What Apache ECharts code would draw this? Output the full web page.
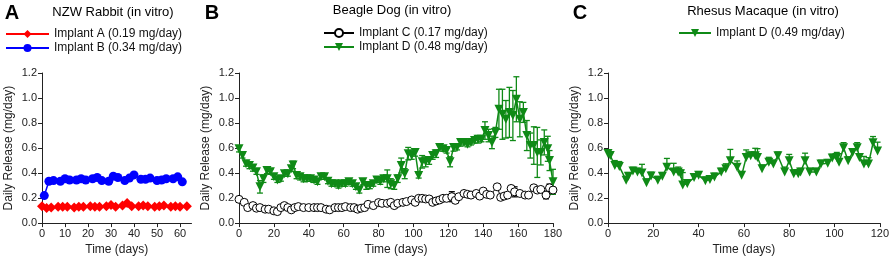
<!DOCTYPE html>
<html>
<head>
<meta charset="utf-8">
<script src="https://cdn.jsdelivr.net/npm/echarts@6/dist/echarts.min.js"></script>
<style>
html, body { margin: 0; padding: 0; background: #fff; }
#main { width: 892px; height: 261px; }
</style>
</head>
<body>
<div id="main"></div>
<script>
// panel A - NZW rabbit
var daysA_red = [0,2,4,7,9,11,14,16,18,21,23,25,28,30,32,35,37,39,42,44,46,49,51,53,56,58,60,63];
var implantA = [0.135,0.12,0.125,0.13,0.13,0.13,0.125,0.13,0.13,0.135,0.13,0.13,0.135,0.145,0.13,0.14,0.16,0.135,0.135,0.14,0.135,0.13,0.135,0.14,0.13,0.135,0.13,0.135];
var daysA_blue = [1,3,5,8,10,12,15,17,19,22,24,26,29,31,33,36,38,40,43,45,47,50,52,54,57,59,61];
var implantB = [0.22,0.335,0.34,0.335,0.355,0.345,0.345,0.355,0.345,0.355,0.365,0.34,0.335,0.375,0.365,0.34,0.36,0.385,0.35,0.35,0.36,0.34,0.345,0.355,0.355,0.37,0.33];

// panel B - beagle dog
var daysB_C = [0,3,5,8,10,12,15,17,20,22,24,26,28,30,32,34,37,40,43,45,47,50,52,55,57,59,61,64,66,68,70,72,74,77,80,82,85,87,89,91,94,96,99,101,103,105,107,109,111,113,115,117,119,122,124,126,129,131,133,136,138,140,142,144,148,150,152,154,156,158,161,164,166,169,171,173,176,178,180];
var implantC = [0.19,0.166,0.124,0.14,0.119,0.124,0.111,0.111,0.098,0.092,0.124,0.14,0.124,0.106,0.124,0.132,0.124,0.124,0.124,0.124,0.124,0.111,0.106,0.124,0.124,0.124,0.132,0.124,0.124,0.111,0.119,0.124,0.15,0.14,0.164,0.158,0.158,0.166,0.14,0.158,0.166,0.172,0.185,0.166,0.198,0.198,0.193,0.193,0.166,0.177,0.185,0.198,0.198,0.211,0.182,0.211,0.237,0.23,0.224,0.237,0.216,0.256,0.23,0.224,0.29,0.206,0.216,0.224,0.277,0.25,0.237,0.224,0.224,0.282,0.264,0.269,0.224,0.282,0.264];
var errC = [0,0,0,0,0,0,0,0,0,0,0,0,0,0,0,0,0,0,0,0,0,0,0,0,0,0,0,0,0,0,0,0,0.015,0,0,0,0,0,0,0,0,0,0,0,0,0,0,0,0,0,0,0,0,0.04,0.02,0,0,0,0,0,0,0,0,0,0.015,0,0,0,0.02,0.04,0,0,0,0.015,0,0,0.03,0.03,0];
var daysB_D = [0,2,4,6,8,10,12,14,16,18,20,22,24,26,28,30,31,33,35,37,39,41,43,45,47,49,51,53,55,57,59,61,63,65,67,69,71,73,75,77,79,81,83,85,87,89,91,93,95,97,99,101,103,105,107,109,111,113,115,117,119,121,123,125,127,129,131,133,135,137,139,141,143,145,147,149,151,153,155,157,159,161,163,165,167,169,171,173,175,177,178,180];
var implantD_dog = [0.594,0.54,0.475,0.46,0.44,0.41,0.29,0.355,0.42,0.41,0.37,0.345,0.355,0.395,0.395,0.435,0.465,0.38,0.37,0.355,0.355,0.355,0.345,0.33,0.37,0.37,0.335,0.315,0.315,0.30,0.315,0.315,0.33,0.315,0.29,0.265,0.33,0.30,0.30,0.315,0.345,0.335,0.355,0.355,0.315,0.30,0.355,0.46,0.395,0.555,0.54,0.565,0.38,0.49,0.49,0.50,0.54,0.555,0.605,0.594,0.58,0.49,0.605,0.605,0.645,0.645,0.63,0.645,0.66,0.67,0.67,0.74,0.70,0.645,0.725,0.91,0.87,0.83,0.885,0.86,0.99,0.83,0.885,0.70,0.62,0.62,0.565,0.565,0.645,0.594,0.50,0.33];
var errD_dog = [0.025,0.02,0.02,0.025,0.025,0.02,0.05,0.03,0.025,0.02,0.02,0.02,0.02,0.02,0.02,0.02,0.03,0.025,0.025,0.025,0.02,0.02,0.02,0.02,0.02,0.02,0.02,0.02,0.02,0.02,0.02,0.02,0.02,0.02,0.02,0.025,0.025,0.03,0.025,0.02,0.02,0.025,0.025,0.07,0.04,0.03,0.03,0.06,0.04,0.05,0.03,0.03,0.02,0.05,0.04,0.03,0.03,0.03,0.02,0.02,0.02,0.04,0.03,0.02,0.03,0.02,0.02,0.02,0.02,0.03,0.02,0.07,0.05,0.05,0.04,0.16,0.2,0.15,0.2,0.2,0.18,0.14,0.08,0.12,0.1,0.15,0.2,0.1,0.1,0.1,0.08,0.1];

// panel C - rhesus macaque
var daysC_D = [0,1,3,5,8,9,11,13,15,17,19,22,24,26,29,31,32,33,35,38,40,43,45,47,50,52,54,57,59,61,63,65,66,68,71,73,75,78,80,82,84,85,87,89,92,94,97,99,101,102,104,106,108,110,111,113,115,117,119];
var implantD_mac = [0.556,0.54,0.46,0.452,0.343,0.374,0.416,0.408,0.40,0.322,0.377,0.343,0.374,0.447,0.408,0.408,0.395,0.304,0.317,0.364,0.382,0.338,0.348,0.369,0.408,0.434,0.499,0.447,0.382,0.525,0.538,0.538,0.525,0.434,0.486,0.473,0.538,0.408,0.499,0.395,0.395,0.408,0.499,0.408,0.408,0.473,0.478,0.52,0.525,0.486,0.603,0.499,0.564,0.603,0.525,0.473,0.473,0.642,0.577];
var errD_mac = [0.03,0.02,0.04,0.04,0.03,0.03,0.03,0.03,0.07,0.03,0.03,0.03,0.03,0.07,0.07,0.04,0.03,0.1,0.03,0.03,0.03,0.03,0.03,0.03,0.03,0.04,0.09,0.05,0.03,0.06,0.03,0.06,0.07,0.03,0.04,0.03,0.03,0.04,0.05,0.03,0.03,0.03,0.06,0.03,0.03,0.03,0.03,0.03,0.04,0.03,0.04,0.03,0.03,0.04,0.03,0.06,0.05,0.05,0.07];

var yTicks = ['0.0','0.2','0.4','0.6','0.8','1.0','1.2'];

var green = '#0f8a16';
var font = 'Liberation Sans';

function pairs(xs, ys, es) {
  return xs.map(function (x, i) { return es ? [x, ys[i], es[i]] : [x, ys[i]]; });
}

function errorSeries(idx, xs, ys, es, color, upOnly) {
  return {
    type: 'custom',
    xAxisIndex: idx,
    yAxisIndex: idx,
    z: 1,
    silent: true,
    data: pairs(xs, ys, es),
    renderItem: function (params, api) {
      var x = api.value(0), y = api.value(1), e = api.value(2);
      if (!e) return;
      var top = api.coord([x, y + e]);
      var bot = api.coord([x, upOnly ? y : y - e]);
      var st = { stroke: color, lineWidth: 1.3 };
      var kids = [
        { type: 'line', shape: { x1: top[0], y1: top[1], x2: bot[0], y2: bot[1] }, style: st },
        { type: 'line', shape: { x1: top[0] - 3, y1: top[1], x2: top[0] + 3, y2: top[1] }, style: st }
      ];
      if (!upOnly) {
        kids.push({ type: 'line', shape: { x1: bot[0] - 3, y1: bot[1], x2: bot[0] + 3, y2: bot[1] }, style: st });
      }
      return { type: 'group', children: kids };
    }
  };
}

function xAxis(idx, max, step) {
  return {
    gridIndex: idx, type: 'value', min: 0, max: max, interval: step,
    name: 'Time (days)', nameLocation: 'middle', nameGap: 18,
    nameTextStyle: { fontFamily: font, fontSize: 12, color: '#222' },
    axisLine: { lineStyle: { color: '#222', width: 1 } },
    axisTick: { length: 4, lineStyle: { color: '#222' } },
    axisLabel: { fontFamily: font, fontSize: 11, color: '#222', margin: 5,
      formatter: function (v) { return v > 180 ? '' : v; } },
    splitLine: { show: false }
  };
}

function yAxis(idx) {
  return {
    gridIndex: idx, type: 'value', min: 0, max: 1.2, interval: 0.2,
    name: 'Daily Release (mg/day)', nameLocation: 'middle', nameGap: 27,
    nameTextStyle: { fontFamily: font, fontSize: 12, color: '#222' },
    axisLine: { show: true, lineStyle: { color: '#222', width: 1 } },
    axisTick: { show: true, length: 4, lineStyle: { color: '#222' } },
    axisLabel: { fontFamily: font, fontSize: 11, color: '#222', margin: 5,
      formatter: function (v) { return yTicks[Math.round(v / 0.2)]; } },
    splitLine: { show: false }
  };
}

function legend(left, top, w, names) {
  return {
    orient: 'vertical', left: left, top: top, itemWidth: w, itemHeight: 10, itemGap: 2,
    padding: 0, data: names, selectedMode: false,
    textStyle: { fontFamily: font, fontSize: 12, color: '#111' }
  };
}

function label(x, y, text, fontStr) {
  return { type: 'text', x: x, y: y,
    style: { text: text, font: fontStr, fill: '#000', textAlign: 'center', textVerticalAlign: 'middle' } };
}

var chart = echarts.init(document.getElementById('main'));
chart.setOption({
  animation: false,
  graphic: [
    label(12, 13, 'A', 'bold 20px "Liberation Sans"'),
    label(212, 13, 'B', 'bold 20px "Liberation Sans"'),
    label(580, 13, 'C', 'bold 20px "Liberation Sans"'),
    label(113, 12, 'NZW Rabbit (in vitro)', '13px "Liberation Sans"'),
    label(392, 10, 'Beagle Dog (in vitro)', '13px "Liberation Sans"'),
    label(763, 11, 'Rhesus Macaque (in vitro)', '13px "Liberation Sans"')
  ],
  legend: [
    legend(5, 28, 43, ['Implant A (0.19 mg/day)', 'Implant B (0.34 mg/day)']),
    legend(323, 27, 30, ['Implant C (0.17 mg/day)', 'Implant D (0.48 mg/day)']),
    legend(678, 27, 32, ['Implant D (0.49 mg/day)'])
  ],
  grid: [
    { left: 42, top: 73, width: 149.5, height: 152 },
    { left: 239, top: 73, width: 314, height: 152 },
    { left: 608, top: 73, width: 274, height: 152 }
  ],
  xAxis: [xAxis(0, 65, 10), xAxis(1, 180, 20), xAxis(2, 120, 20)],
  yAxis: [yAxis(0), yAxis(1), yAxis(2)],
  series: [
    { name: 'Implant A (0.19 mg/day)', type: 'line', xAxisIndex: 0, yAxisIndex: 0,
      data: pairs(daysA_red, implantA), symbol: 'diamond', symbolSize: 10, z: 3,
      lineStyle: { color: '#ff0000', width: 1.5 }, itemStyle: { color: '#ff0000' } },
    { name: 'Implant B (0.34 mg/day)', type: 'line', xAxisIndex: 0, yAxisIndex: 0,
      data: pairs(daysA_blue, implantB), symbol: 'circle', symbolSize: 9, z: 3,
      lineStyle: { color: '#0000ff', width: 1.5 }, itemStyle: { color: '#0000ff' } },

    errorSeries(1, daysB_D, implantD_dog, errD_dog, green, false),
    errorSeries(1, daysB_C, implantC, errC, '#000', false),
    { name: 'Implant C (0.17 mg/day)', type: 'line', xAxisIndex: 1, yAxisIndex: 1,
      data: pairs(daysB_C, implantC), symbol: 'circle', symbolSize: 8, z: 3,
      lineStyle: { color: '#000', width: 1 },
      itemStyle: { color: '#fff', borderColor: '#000', borderWidth: 1 } },
    { name: 'Implant D (0.48 mg/day)', type: 'line', xAxisIndex: 1, yAxisIndex: 1,
      data: pairs(daysB_D, implantD_dog), symbol: 'triangle', symbolRotate: 180, symbolSize: 9, z: 3,
      lineStyle: { color: green, width: 1.5 }, itemStyle: { color: green } },

    errorSeries(2, daysC_D, implantD_mac, errD_mac, green, true),
    { name: 'Implant D (0.49 mg/day)', type: 'line', xAxisIndex: 2, yAxisIndex: 2,
      data: pairs(daysC_D, implantD_mac), symbol: 'triangle', symbolRotate: 180, symbolSize: 9, z: 3,
      lineStyle: { color: green, width: 1.5 }, itemStyle: { color: green } }
  ]
});
</script>
</body>
</html>
